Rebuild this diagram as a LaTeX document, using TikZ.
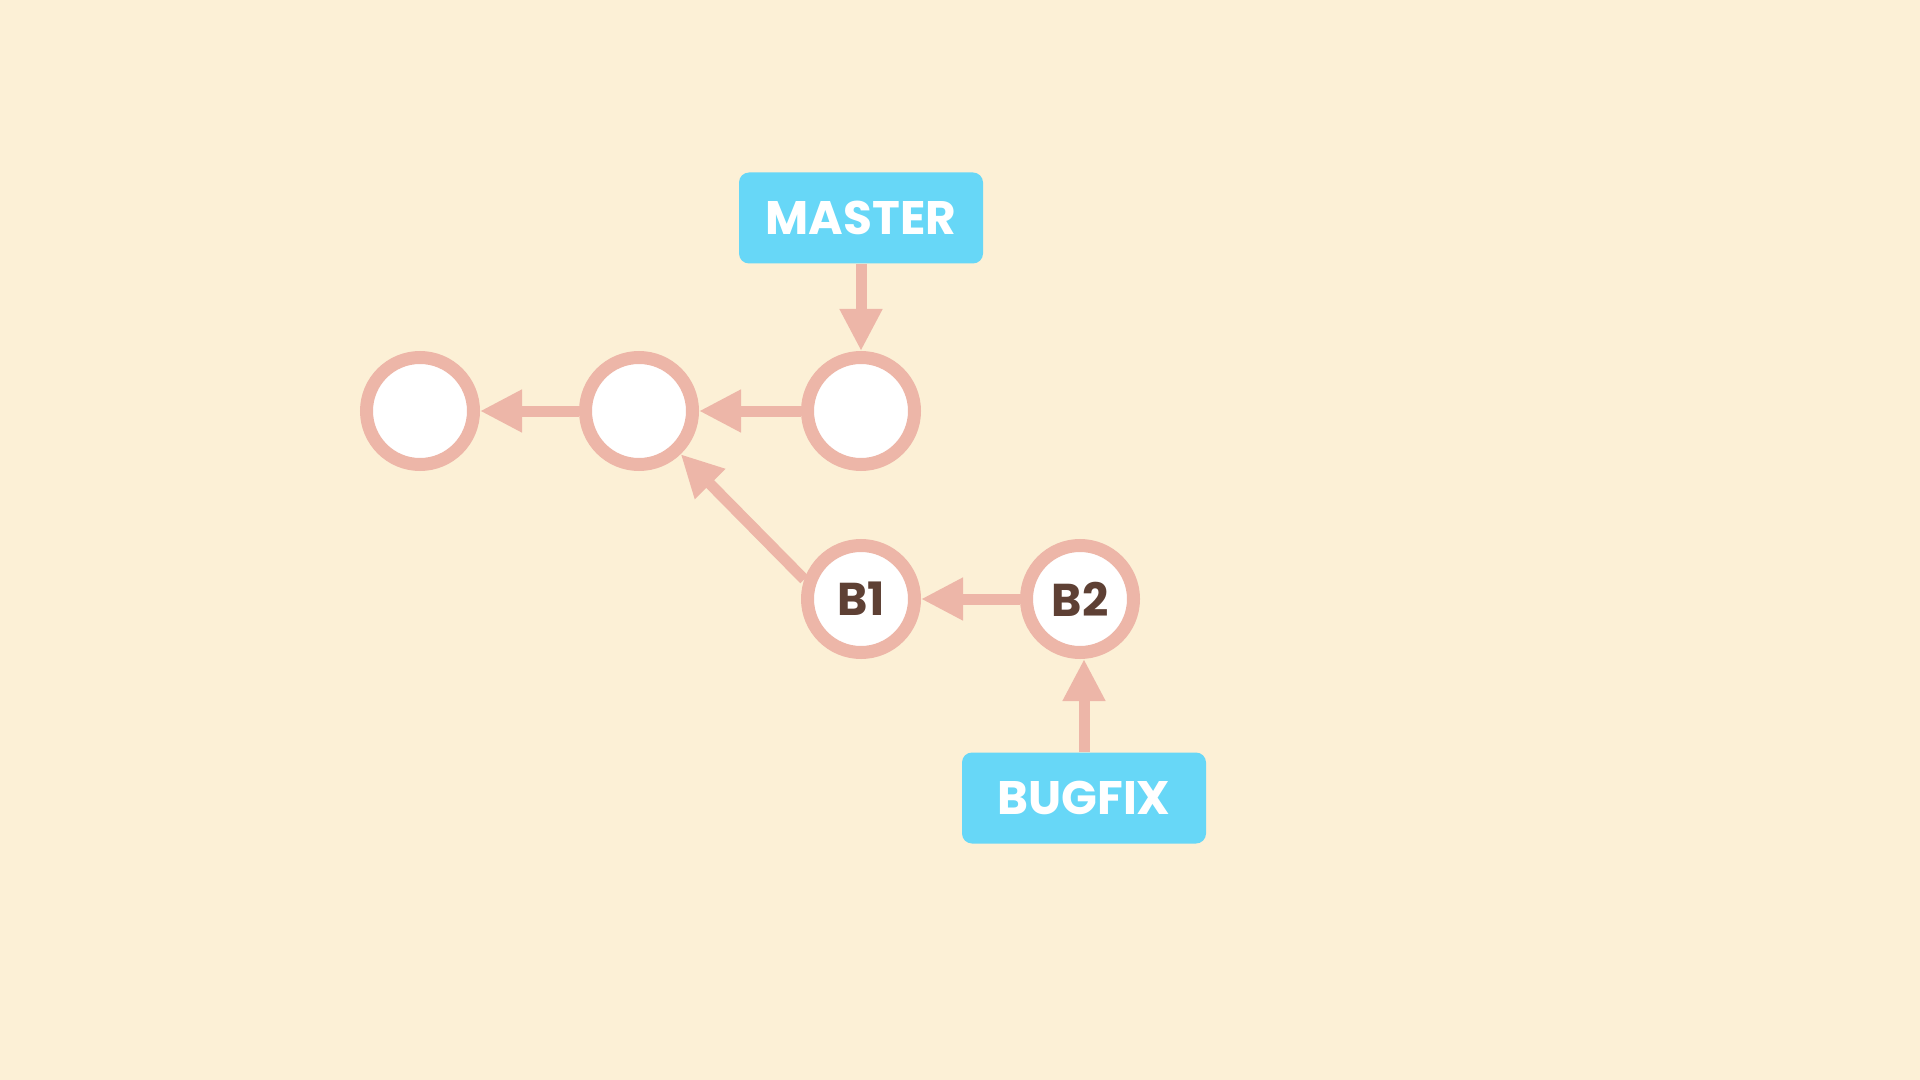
\documentclass[tikz,border=0pt]{standalone}
\usepackage{fontspec}
\setmainfont{Poppins}
\usepackage{tikz}
\usetikzlibrary{arrows.meta}
\definecolor{bgcream}{RGB}{252,240,214}
\definecolor{commitpink}{RGB}{237,182,168}
\definecolor{labelblue}{RGB}{103,215,247}
\definecolor{textbrown}{RGB}{94,64,52}

\begin{document}
\begin{tikzpicture}[x=0.5pt, y=-0.5pt,
  commit/.style={circle, draw=commitpink, fill=white, line width=6.5pt, minimum size=53.5pt, inner sep=0pt, font=\fontsize{23}{23}\selectfont\bfseries, text=textbrown},
  branch/.style={rectangle, rounded corners=5pt, fill=labelblue, minimum width=122pt, minimum height=45.5pt, inner sep=0pt, font=\fontsize{23.5}{23.5}\selectfont\bfseries, text=white},
  parent/.style={draw=commitpink, line width=5.5pt, -{Triangle[length=21pt, width=20pt]}, commitpink}]
\fill[bgcream] (0,0) rectangle (1920,1080);
\useasboundingbox (0,0) rectangle (1920,1080);
\node[commit] (c1) at (420,411) {};
\node[commit] (c2) at (639,411) {};
\node[commit] (c3) at (861,411) {};
\node[commit] (b1) at (861,599) {B1};
\node[commit] (b2) at (1080,599) {B2};
\node[branch] (master) at (861,218) {MASTER};
\node[branch] (bugfix) at (1084,798) {BUGFIX};
\draw[parent] (c2) -- (c1);
\draw[parent] (c3) -- (c2);
\draw[parent] (b2) -- (b1);
\draw[parent] (b1.161) -- (c2.-46);
\draw[parent] (master.south) -- (c3.north);
\draw[parent] (bugfix.north) -- (bugfix.north |- b2.south);
\end{tikzpicture}
\end{document}
